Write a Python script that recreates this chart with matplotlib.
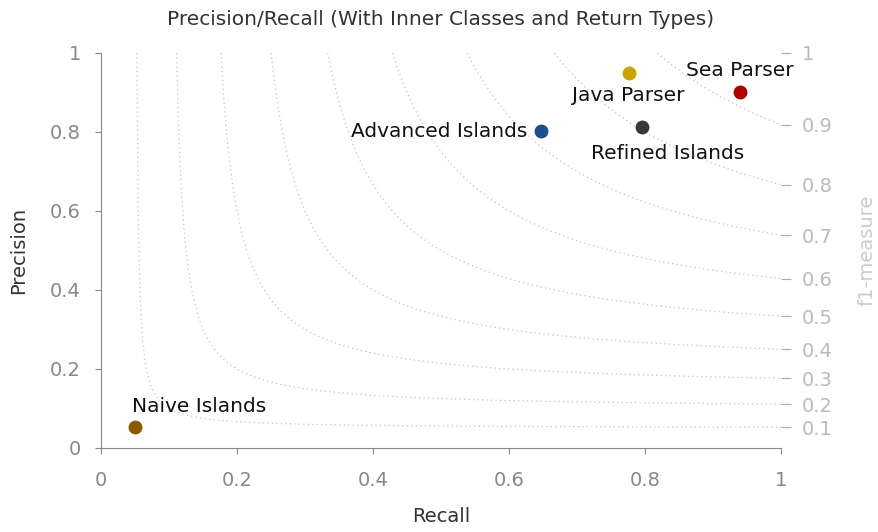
import numpy as np
import matplotlib
matplotlib.use("Agg")
import matplotlib.pyplot as plt

names = ["Naive Islands", "Advanced Islands", "Java Parser", "Refined Islands", "Sea Parser"]
recall = [0.05, 0.647, 0.776, 0.796, 0.940]
precision = [0.053, 0.802, 0.948, 0.812, 0.900]
colors = ["#8c5a00", "#1f4e8c", "#c9a400", "#333a3d", "#aa0000"]
f1_levels = [0.1, 0.2, 0.3, 0.4, 0.5, 0.6, 0.7, 0.8, 0.9, 1.0]

# label offsets (points) and alignment
offsets = [(-2, 8, "left", "bottom"), (-10, 0, "right", "center"), (0, -9, "center", "top"),
           (18, -12, "center", "top"), (0, 9, "center", "bottom")]

fig = plt.figure(figsize=(8.79, 5.32), dpi=100)
ax = fig.add_axes([0.115, 0.158, 0.7735, 0.7425])

grid_col = "#c4c4c4"
for f in f1_levels[:-1]:
    r0 = f / (2 - f)
    r = np.linspace(r0, 1, 400)
    p = f * r / (2 * r - f)
    ax.plot(r, p, linestyle=(0, (1, 2.6)), color=grid_col, linewidth=0.9, zorder=1)

for n, r, p, c, (dx, dy, ha, va) in zip(names, recall, precision, colors, offsets):
    ax.scatter([r], [p], s=100, color=c, zorder=3, linewidths=0)
    ax.annotate(n, (r, p), xytext=(dx, dy), textcoords="offset points",
                ha=ha, va=va, fontsize=14.5, color="#111111")

ax.set_xlim(0, 1)
ax.set_ylim(0, 1)
ticks = [0, 0.2, 0.4, 0.6, 0.8, 1]
ticklabels = ["0", "0.2", "0.4", "0.6", "0.8", "1"]
ax.set_xticks(ticks)
ax.set_xticklabels(ticklabels)
ax.set_yticks(ticks)
ax.set_yticklabels(ticklabels)
for s in ["top", "right"]:
    ax.spines[s].set_visible(False)
for s in ["left", "bottom"]:
    ax.spines[s].set_color("#888888")
ax.tick_params(axis="both", colors="#888888", labelcolor="#888888", labelsize=14,
               length=4.5, direction="out")
ax.tick_params(axis="x", pad=12)
ax.tick_params(axis="y", pad=10)
ax.set_xlabel("Recall", fontsize=14, color="#333333", labelpad=12)
ax.set_ylabel("Precision", fontsize=14, color="#333333", labelpad=16)
ax.set_title("Precision/Recall (With Inner Classes and Return Types)", fontsize=14.5,
             color="#333333", pad=20)

ax2 = ax.twinx()
ax2.set_ylim(0, 1)
pos = [f / (2 - f) for f in f1_levels]
ax2.set_yticks(pos)
ax2.set_yticklabels(["1" if f == 1.0 else f"{f:.1f}" for f in f1_levels])
for s in ["top", "right", "left", "bottom"]:
    ax2.spines[s].set_visible(False)
ax2.tick_params(axis="y", colors="#aaaaaa", labelcolor="#bbbbbb", labelsize=14,
                length=7, direction="out", pad=8)
ax2.set_ylabel("f1-measure", fontsize=14, color="#cccccc", labelpad=18)

fig.savefig("out.png", dpi=100)
